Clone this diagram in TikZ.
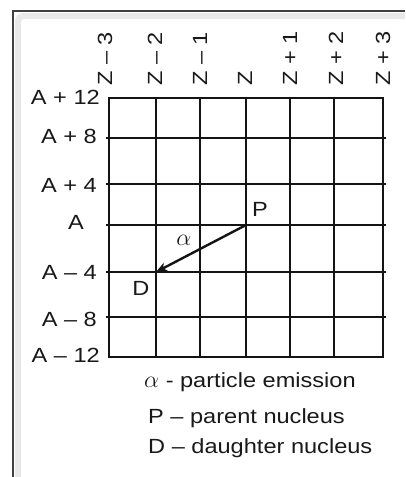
\documentclass[tikz,border=0pt]{standalone}
\usepackage{fontspec}
\setmainfont{Liberation Sans}[FakeStretch=1.15]
\usetikzlibrary{arrows.meta}
\begin{document}
\begin{tikzpicture}[x=1pt,y=-1pt,
  font=\fontsize{20.5}{24}\selectfont,
  gridline/.style={line width=2.1pt, color=black!92},
  lab/.style={inner sep=0pt, text=black!90},
  zlab/.style={lab, rotate=90, anchor=west},
  alab/.style={lab, anchor=base east},
  legend/.style={lab, anchor=base west}]
\useasboundingbox (0,0) rectangle (405,477);
\fill[white] (0,0) rectangle (405,477);
% panel frame
\draw[line width=6pt, color=black!9, rounded corners=5pt] (18,477) -- (18,16) -- (405,16);
\draw[line width=1.6pt, color=black!75] (13,477) -- (13,11) -- (405,11);
% grid
\draw[gridline] (109,98) rectangle (383,357);
\foreach \x in {156,200,246,290,334} \draw[gridline] (\x,98) -- (\x,357);
\foreach \y in {138,184,225,272,317} \draw[gridline] (106,\y) -- (386,\y);
% Z labels
\node[zlab] (zm3) at (105,86) {Z – 3};
\node[zlab] (zm2) at (155,86) {Z – 2};
\node[zlab] (zm1) at (200,86) {Z – 1};
\node[zlab] (z0)  at (245,86) {Z};
\node[zlab] (zp1) at (290,86) {Z + 1};
\node[zlab] (zp2) at (336,86) {Z + 2};
\node[zlab] (zp3) at (383,86) {Z + 3};
% A labels
\node[alab] (ap12) at (100,104) {A + 12};
\node[alab] (ap8)  at (97,143) {A + 8};
\node[alab] (ap4)  at (97,192) {A + 4};
\node[lab, anchor=base] (a0) at (76,229) {A};
\node[alab] (am4)  at (97,279) {A – 4};
\node[alab] (am8)  at (97,326) {A – 8};
\node[alab] (am12) at (100,362) {A – 12};
% decay arrow
\coordinate (p) at (246,225);
\coordinate (d) at (156,272);
\draw[line width=2.4pt, color=black!92, -{Stealth[length=11pt,width=9pt,inset=3pt]}] (p) -- (d);
\node[lab] (plab) at (260,209) {P};
\node[lab] (dlab) at (141,288) {D};
\node[lab, scale=1.15] (alpha) at (184,240) {$\alpha$};
% legend
\node[legend] (l1) at (144,387) {\scalebox{1.15}{$\alpha$} - particle emission};
\node[legend] (l2) at (148,423) {P – parent nucleus};
\node[legend] (l3) at (148,453) {D – daughter nucleus};
\end{tikzpicture}
\end{document}
